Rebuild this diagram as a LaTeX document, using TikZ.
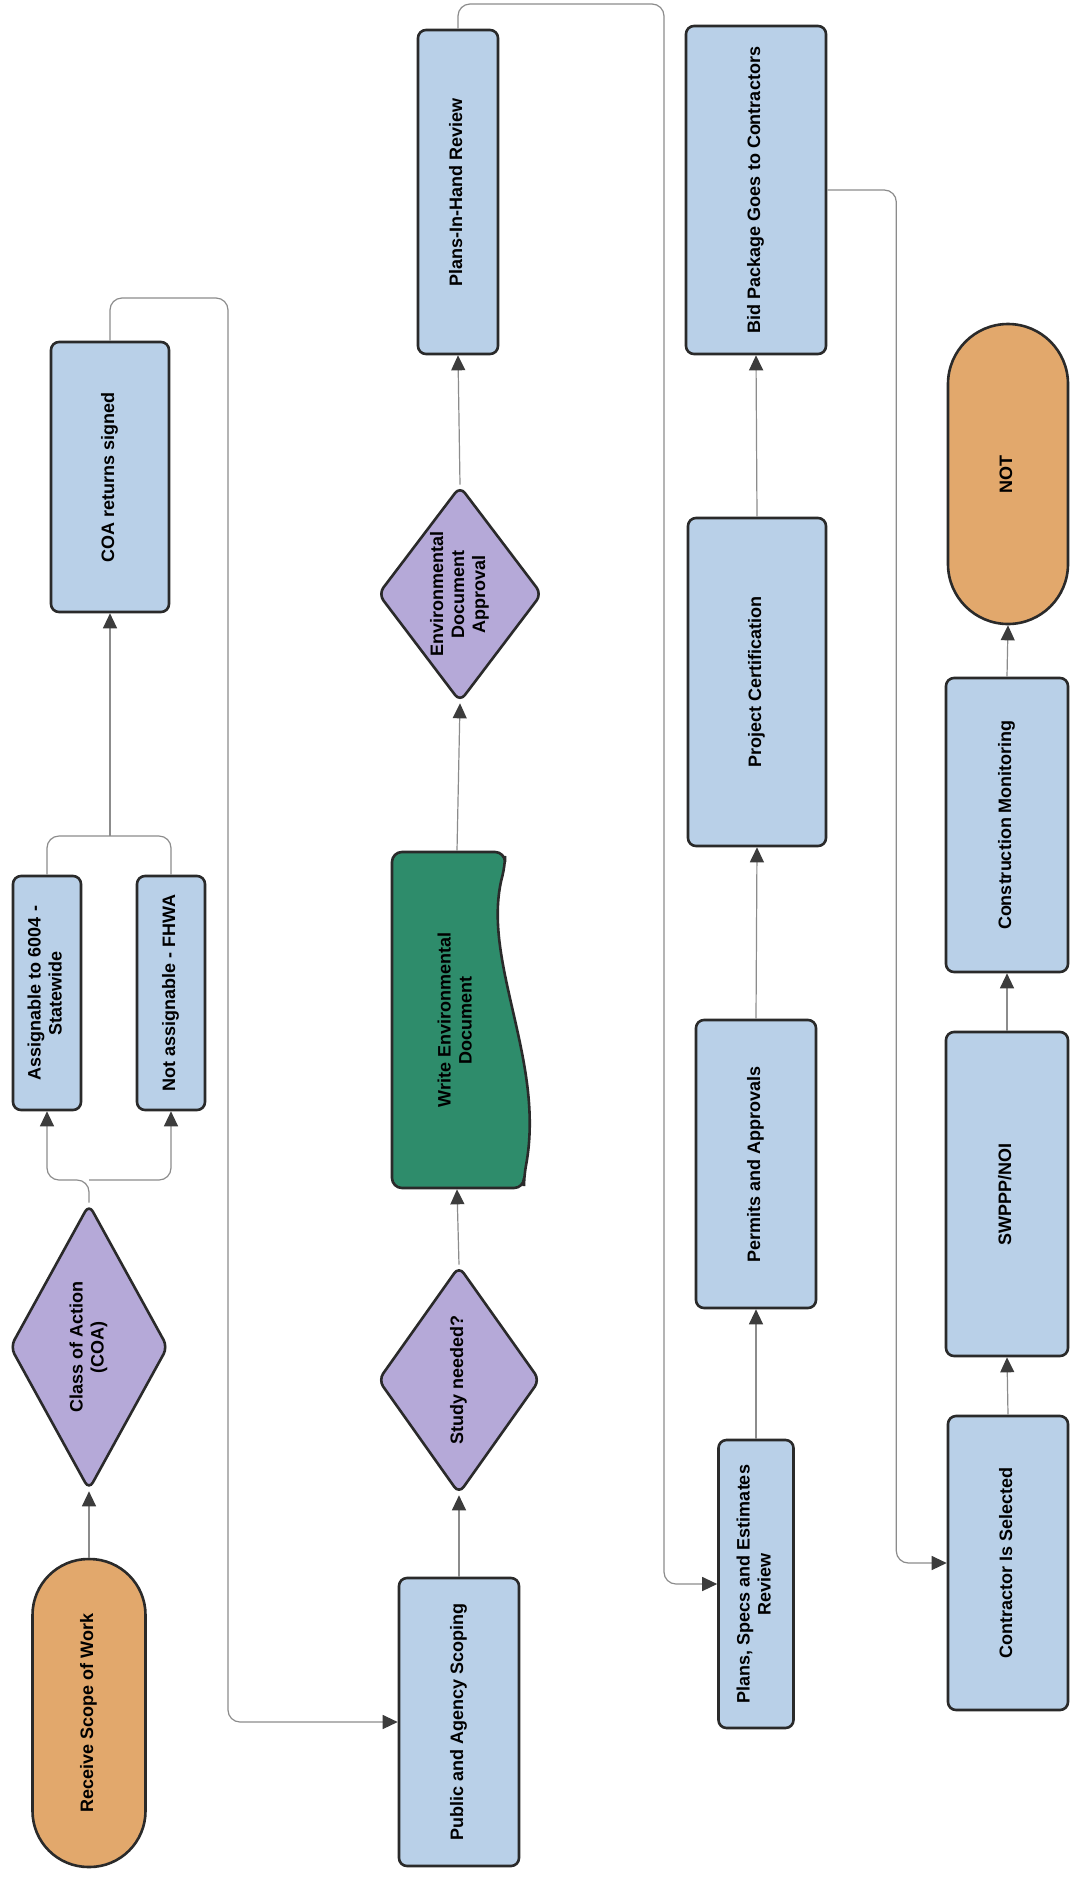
\documentclass[tikz,border=0pt]{standalone}
\usepackage{fontspec}
\setmainfont{Liberation Sans}
\usetikzlibrary{arrows.meta,shapes.geometric}
\definecolor{boxblue}{HTML}{B9D0E8}
\definecolor{diapurple}{HTML}{B5A9D8}
\definecolor{termorange}{HTML}{E2A86C}
\definecolor{docgreen}{HTML}{2E8C6B}
\definecolor{edgecol}{HTML}{2A2A2A}
\definecolor{linegray}{HTML}{8C8C8C}
\definecolor{tipgray}{HTML}{3C3C3C}
\newcommand{\rt}[1]{\rotatebox{90}{\begin{tabular}{@{}c@{}}#1\end{tabular}}}
\tikzset{
  base/.style={draw=edgecol, line width=1.3pt, font=\bfseries\fontsize{9}{10.5}\selectfont, text=black, inner sep=0pt},
  bluebox/.style={base, fill=boxblue, rectangle, rounded corners=4pt},
  decision/.style={base, fill=diapurple, diamond, aspect=0.75, rounded corners=4pt},
  terminal/.style={base, fill=termorange, rectangle},
  conn/.style={draw=linegray, line width=0.6pt},
  arr/.style={conn, -{Triangle[length=7.5pt,width=7pt,fill=tipgray,color=tipgray]}},
}
\begin{document}
\begin{tikzpicture}[x=0.5pt,y=-0.5pt]
\useasboundingbox[fill=white] (0,0) rectangle (1090,1880);

% column 1
\node[terminal, rounded corners=28pt, minimum width=56.5pt, minimum height=154pt] (rsw) at (89,1713) {\rt{Receive Scope of Work}};
\node[decision, minimum width=79pt, minimum height=143pt] (coa) at (89,1347) {\rt{Class of Action\\(COA)}};
\node[bluebox, minimum width=34pt, minimum height=117pt] (assign) at (47,993) {\rt{Assignable to 6004 -\\Statewide}};
\node[bluebox, minimum width=34pt, minimum height=117pt] (notassign) at (171,993) {\rt{Not assignable - FHWA}};
\node[bluebox, minimum width=59pt, minimum height=135pt] (coasigned) at (110,477) {\rt{COA returns signed}};

% column 2
\node[bluebox, minimum width=60pt, minimum height=144pt] (public) at (459,1722) {\rt{Public and Agency Scoping}};
\node[decision, minimum width=81pt, minimum height=114pt] (study) at (459,1380) {\rt{Study needed?}};
\path[draw=edgecol, line width=1.3pt, fill=docgreen, rounded corners=5pt]
  (392,1188) -- (392,852) -- (505,852) -- (505,866)
  .. controls (480,960) and (546,1060) .. (524,1176) -- (524,1188) -- cycle;
\node[base, draw=none, minimum width=66pt, minimum height=168pt] (write) at (457,1020) {\rt{Write Environmental\\Document}};
\node[decision, minimum width=82pt, minimum height=108pt] (envapp) at (460,594) {\rt{Environmental\\Document\\Approval}};
\node[bluebox, minimum width=40pt, minimum height=162pt] (pih) at (458,192) {\rt{Plans-In-Hand Review}};

% column 3
\node[bluebox, minimum width=70pt, minimum height=164pt] (bid) at (756,190) {\rt{Bid Package Goes to Contractors}};
\node[bluebox, minimum width=69pt, minimum height=164pt] (proj) at (757,682) {\rt{Project Certification}};
\node[bluebox, minimum width=60pt, minimum height=144pt] (permits) at (756,1164) {\rt{Permits and Approvals}};
\node[bluebox, minimum width=37.5pt, minimum height=144pt] (ps) at (756,1584) {\rt{Plans, Specs and Estimates\\Review}};

% column 4
\node[terminal, rounded corners=30pt, minimum width=60pt, minimum height=150pt] (notnode) at (1008,474) {\rt{NOT}};
\node[bluebox, minimum width=61pt, minimum height=147pt] (cm) at (1007,825) {\rt{Construction Monitoring}};
\node[bluebox, minimum width=61pt, minimum height=162pt] (swppp) at (1007,1194) {\rt{SWPPP/NOI}};
\node[bluebox, minimum width=60pt, minimum height=147pt] (contr) at (1008,1563) {\rt{Contractor Is Selected}};

% waypoints
\coordinate (fork) at (89,1180);
\coordinate (join) at (110,836);

% connectors
\draw[arr] (rsw.north) -- (coa.south);
\draw[arr, rounded corners=6pt] (coa.north) -- (fork) -| (assign.south);
\draw[arr, rounded corners=6pt] (fork) -| (notassign.south);
\draw[conn, rounded corners=6pt] (assign.north) |- (join) -| (notassign.north);
\draw[arr] (join) -- (coasigned.south);
\draw[arr, rounded corners=6pt] (coasigned.north) |- (228,298) |- (public.west);

\draw[arr] (public.north) -- (study.south);
\draw[arr] (study.north) -- (write.south);
\draw[arr] (write.north) -- (envapp.south);
\draw[arr] (envapp.north) -- (pih.south);
\draw[arr, rounded corners=6pt] (pih.north) |- (664,4) |- (ps.west);

\draw[arr] (ps.north) -- (permits.south);
\draw[arr] (permits.north) -- (proj.south);
\draw[arr] (proj.north) -- (bid.south);
\draw[arr, rounded corners=6pt] (bid.east) -- ++(69,0) |- (contr.west);

\draw[arr] (contr.north) -- (swppp.south);
\draw[arr] (swppp.north) -- (cm.south);
\draw[arr] (cm.north) -- (notnode.south);
\end{tikzpicture}
\end{document}
